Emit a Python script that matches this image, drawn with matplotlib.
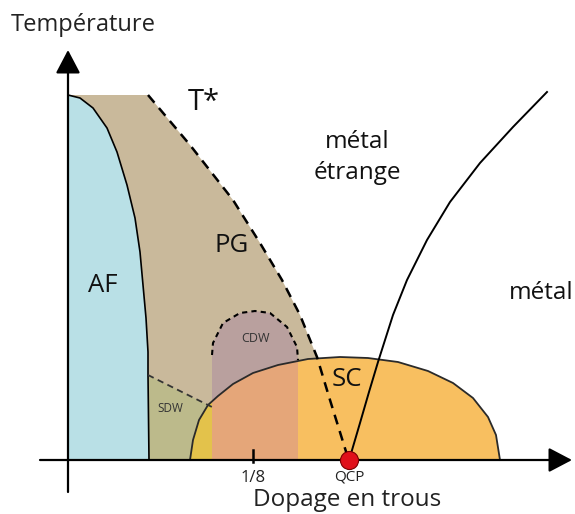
import matplotlib
matplotlib.use("Agg")
import matplotlib.pyplot as plt
from matplotlib.patches import Polygon

plt.rcParams["font.family"] = ["Open Sans", "DejaVu Sans"]

# Schematic phase diagram, coordinates: x = hole doping, y = temperature (arbitrary units)
AF_X = [0, 12, 25, 39, 49, 59, 67, 72, 75, 78, 80, 80, 81]
AF_Y = [365, 362, 352, 332, 308, 275, 242, 208, 175, 142, 108, 85, 0]

TSTAR_X = [80, 122, 165, 192, 214, 232, 249, 262, 280]
TSTAR_Y = [365, 315, 260, 217, 180, 145, 103, 60, 2]

DOME_X = [122, 125, 131, 140, 150, 165, 185, 210, 240, 272, 300, 330, 360, 385, 405, 420, 428, 432]
DOME_Y = [0, 20, 40, 55, 64, 76, 87, 95, 101, 103, 102, 98, 89, 77, 62, 43, 25, 0]

CDW_X = [144, 145, 155, 172, 187, 202, 219, 229, 230]
CDW_Y = [105, 117, 137, 147, 149, 147, 133, 113, 100]

SDW_X = [80, 144]
SDW_Y = [85, 53]

CROSS_X = [282, 292, 301, 310, 325, 339, 359, 382, 412, 445, 479]
CROSS_Y = [3, 37, 68, 98, 145, 180, 220, 258, 297, 333, 368]

QCP = (281, 0)
EIGHTH = 185
T_TOP = 365

C_AF = "#b9e0e6"
C_PG = "#c9b99b"
C_CDW = "#b9a09e"
C_SDW = "#bcba8b"
C_SC = "#f8bf60"
C_SC_CDW = "#e5a679"
C_SC_SDW = "#e3c24b"

fig = plt.figure(figsize=(5.75, 5.14), dpi=100)
ax = fig.add_axes([0, 0, 1, 1])
ax.set_xlim(-68, 507)
ax.set_ylim(-54, 460)
ax.axis("off")

# pseudogap region (beige), bounded by T* and the dome
pg = [(0, T_TOP)] + list(zip(TSTAR_X[:7], TSTAR_Y[:7])) + [(TSTAR_X[6], 0), (0, 0)]
ax.add_patch(Polygon(pg, closed=True, fc=C_PG, ec="none", zorder=1))

# CDW and SDW regions
cdw = list(zip(CDW_X, CDW_Y)) + [(CDW_X[-1], 0), (CDW_X[0], 0)]
ax.add_patch(Polygon(cdw, closed=True, fc=C_CDW, ec="none", zorder=2))
sdw = list(zip(SDW_X, SDW_Y)) + [(SDW_X[-1], 0), (SDW_X[0], 0)]
ax.add_patch(Polygon(sdw, closed=True, fc=C_SDW, ec="none", zorder=2))

# AF region
af = [(0, 0)] + list(zip(AF_X, AF_Y))
ax.add_patch(Polygon(af, closed=True, fc=C_AF, ec="none", zorder=3))
ax.plot(AF_X, AF_Y, color="black", lw=1.2, zorder=6, solid_joinstyle="round")

# SC dome with coloured strips
dome = Polygon(list(zip(DOME_X, DOME_Y)), closed=True, fc=C_SC, ec="none", zorder=4)
ax.add_patch(dome)
s1 = ax.axvspan(DOME_X[0], SDW_X[-1], color=C_SC_SDW, lw=0, zorder=4.1)
s1.set_clip_path(dome)
s2 = ax.axvspan(CDW_X[0], CDW_X[-1], color=C_SC_CDW, lw=0, zorder=4.1)
s2.set_clip_path(dome)
ax.plot(DOME_X, DOME_Y, color="#2a2a2a", lw=1.3, zorder=5)

# dashed boundaries
ax.plot(TSTAR_X, TSTAR_Y, color="black", lw=1.8, ls=(0, (4, 2.8)), zorder=6)
ax.plot(CDW_X, CDW_Y, color="black", lw=1.5, ls=(0, (2.5, 2)), zorder=6)
ax.plot(SDW_X, SDW_Y, color="#333333", lw=1.3, ls=(0, (3.5, 2.5)), zorder=6)

# crossover to metal
ax.plot(CROSS_X, CROSS_Y, color="black", lw=1.4, zorder=6, solid_joinstyle="round")

# axes with arrows
arrow = dict(arrowstyle="-|>,head_length=0.8,head_width=0.42", mutation_scale=18,
             lw=1.6, color="black", shrinkA=0, shrinkB=0)
ax.annotate("", xy=(0, 410), xytext=(0, -32), arrowprops=arrow, zorder=7)
ax.annotate("", xy=(504, 0), xytext=(-28, 0), arrowprops=arrow, zorder=7)
ax.plot([EIGHTH, EIGHTH], [-2, 10], color="black", lw=1.8, zorder=7)

ax.plot(*QCP, "o", ms=13, mfc="#e0101a", mec="#7a0000", mew=0.8, zorder=8)

# labels
ax.text(15, 435, "Température", fontsize=17, ha="center", va="center", color="#222222")
ax.text(279, -40, "Dopage en trous", fontsize=17.5, ha="center", va="center", color="#222222")
ax.text(EIGHTH, -18, "1/8", fontsize=12, ha="center", va="center", color="#222222")
ax.text(QCP[0], -17, "QCP", fontsize=11, ha="center", va="center", color="#222222")
ax.text(136, 357, "T*", fontsize=21, ha="center", va="center", color="#111111")
ax.text(289, 318, "métal", fontsize=17.5, ha="center", va="center", color="#111111")
ax.text(289, 287, "étrange", fontsize=17.5, ha="center", va="center", color="#111111")
ax.text(473, 167, "métal", fontsize=17.5, ha="center", va="center", color="#111111")
ax.text(35, 175, "AF", fontsize=18.5, ha="center", va="center", color="#111111", zorder=9)
ax.text(164, 214, "PG", fontsize=18.5, ha="center", va="center", color="#111111", zorder=9)
ax.text(279, 80, "SC", fontsize=18.5, ha="center", va="center", color="#111111", zorder=9)
ax.text(187, 122, "CDW", fontsize=9, ha="center", va="center", color="#333333", zorder=9)
ax.text(102, 52, "SDW", fontsize=8.5, ha="center", va="center", color="#333333", zorder=9)

fig.savefig("out.png", dpi=100)
